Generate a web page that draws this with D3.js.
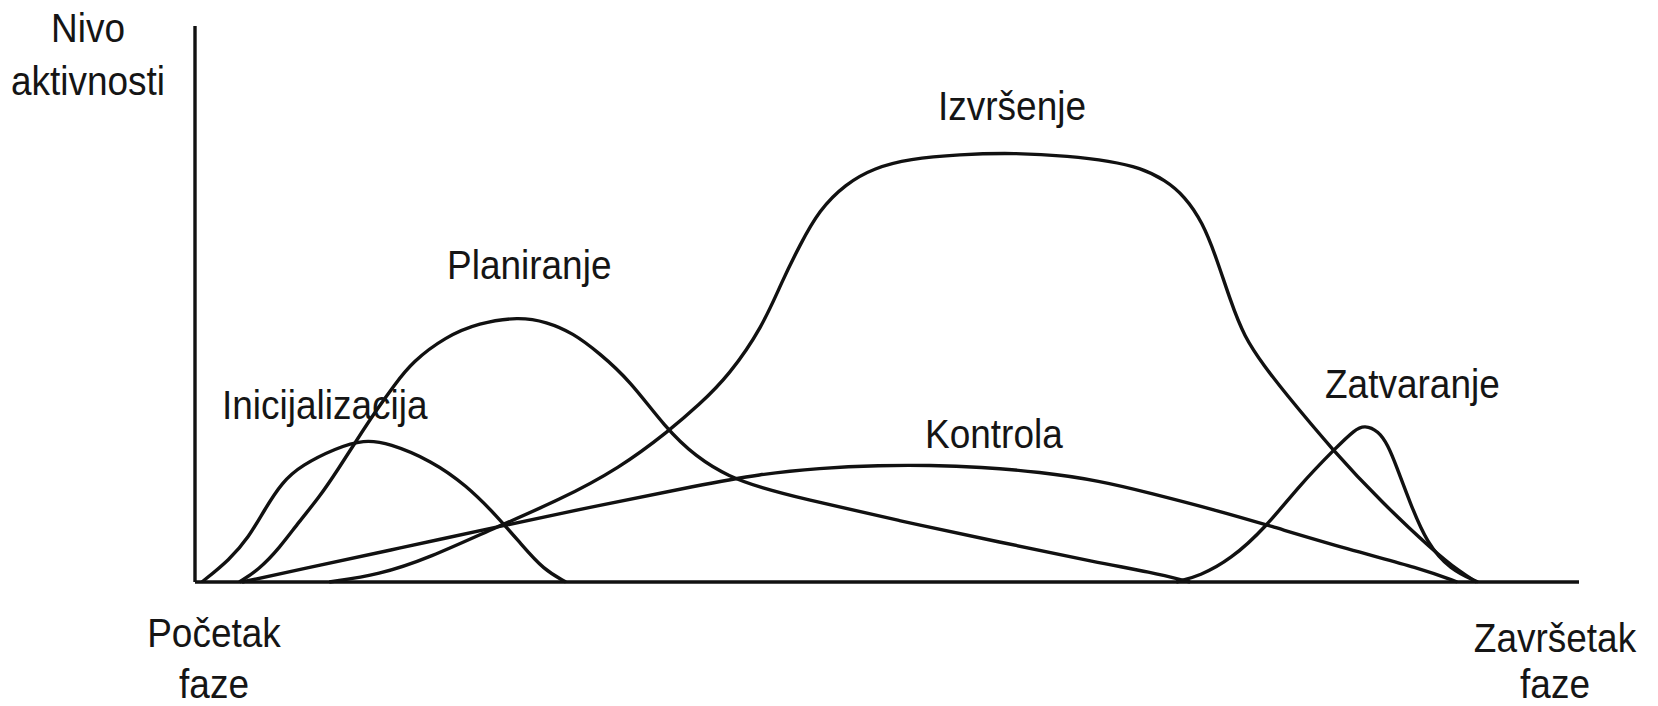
<!DOCTYPE html>
<html>
<head>
<meta charset="utf-8">
<script src="https://cdn.jsdelivr.net/npm/d3@7"></script>
<style>
	body { margin: 0; background: #fff; }
	text { font-family: "Liberation Sans", Arial, sans-serif; fill: #151515; }
</style>
</head>
<body>
<div id="chart"></div>
<script>
// faze projekta - vrijeme (0-100) i nivo aktivnosti (0-100), ocitano sa slike
var inicijalizacijaX = [0.5, 2.5, 3.9, 5.0, 6.3, 7.7, 10.2, 12.2, 14.0, 17.1, 19.6, 21.8, 23.6, 25.2, 26.8];
var inicijalizacijaY = [0, 4.0, 8.1, 12.9, 18.0, 21.0, 24.1, 25.6, 25.0, 21.8, 17.4, 11.9, 6.7, 2.2, 0];

var planiranjeX = [3.2, 4.6, 6.1, 7.5, 9.0, 10.4, 11.6, 13.1, 14.4, 15.7, 18.1, 20.5, 23.4, 25.4, 27.3, 29.2, 31.4, 34.0, 36.2, 38.6, 41.0, 43.7, 50.9, 58.1, 65.4, 69.0, 71.9];
var planiranjeY = [0, 2.2, 6.1, 10.8, 15.3, 20.5, 25.2, 30.9, 35.4, 39.6, 44.1, 46.6, 47.7, 46.8, 44.8, 41.2, 36.3, 27.7, 22.5, 18.9, 16.9, 15.1, 11.0, 7.2, 3.4, 1.8, 0];

var izvrsenjeX = [9.7, 13.3, 16.9, 21.8, 26.3, 30.7, 34.3, 36.4, 38.6, 41.0, 42.4, 43.7, 45.1, 47.0, 49.1, 51.6, 55.2, 59.2, 63.2, 66.1, 68.3, 70.1, 71.5, 72.8, 73.8, 74.8, 75.8, 77.3, 78.6, 82.2, 85.8, 89.4, 91.4, 92.6];
var izvrsenjeY = [0, 1.3, 4.3, 9.9, 14.7, 20.5, 27.3, 31.8, 37.2, 45.9, 54.0, 60.6, 66.9, 71.6, 74.5, 76.1, 76.9, 77.2, 76.6, 75.7, 74.5, 72.3, 69.4, 64.7, 58.3, 50.7, 44.1, 38.7, 34.5, 23.7, 14.2, 5.8, 1.8, 0];

var kontrolaX = [3.4, 7.5, 14.8, 21.8, 29.2, 36.4, 40.8, 45.1, 49.5, 53.1, 56.7, 61.0, 65.4, 69.0, 73.8, 77.4, 83.4, 88.5, 91.2];
var kontrolaY = [0, 2.2, 6.1, 9.9, 13.8, 17.4, 19.4, 20.5, 21.0, 21.0, 20.7, 19.8, 18.2, 16.0, 12.9, 10.3, 5.8, 2.5, 0];

var zatvaranjeX = [70.9, 72.6, 74.8, 77.4, 79.8, 82.5, 83.8, 84.5, 85.5, 86.2, 86.8, 87.8, 89.0, 90.7, 92.7];
var zatvaranjeY = [0, 1.1, 4.0, 9.9, 17.4, 24.3, 27.4, 28.2, 27.2, 24.6, 20.9, 14.2, 7.0, 2.2, 0];

var faze = [
	{ naziv: "Inicijalizacija", x: inicijalizacijaX, y: inicijalizacijaY },
	{ naziv: "Planiranje", x: planiranjeX, y: planiranjeY },
	{ naziv: "Izvršenje", x: izvrsenjeX, y: izvrsenjeY },
	{ naziv: "Kontrola", x: kontrolaX, y: kontrolaY },
	{ naziv: "Zatvaranje", x: zatvaranjeX, y: zatvaranjeY }
];

var width = 1658,
	height = 706;

var svg = d3.select("#chart")
	.append("svg")
	.attr("width", width)
	.attr("height", height);

var x = d3.scaleLinear().domain([0, 100]).range([195, 1579]);
var y = d3.scaleLinear().domain([0, 100]).range([582, 26]);

// basis spline da krive budu glatke kao na crtezu
var line = d3.line()
	.x(function(d) { return x(d[0]); })
	.y(function(d) { return y(d[1]); })
	.curve(d3.curveBasis);

// krive
svg.append("g")
	.selectAll("path")
	.data(faze)
	.enter().append("path")
	.attr("d", function(d) { return line(d3.zip(d.x, d.y)); })
	.attr("fill", "none")
	.attr("stroke", "#111")
	.attr("stroke-width", 3.4)
	.attr("stroke-linejoin", "round");

// ose
svg.append("line")
	.attr("x1", x(0)).attr("y1", y(0))
	.attr("x2", x(0)).attr("y2", y(100))
	.attr("stroke", "#111").attr("stroke-width", 3.4);

svg.append("line")
	.attr("x1", x(0)).attr("y1", y(0))
	.attr("x2", x(100)).attr("y2", y(0))
	.attr("stroke", "#111").attr("stroke-width", 3.4);

// natpisi
var natpisi = [
	{ t: "Inicijalizacija", x: 222, y: 419, a: "start" },
	{ t: "Planiranje", x: 447, y: 279, a: "start" },
	{ t: "Izvršenje", x: 938, y: 120, a: "start" },
	{ t: "Kontrola", x: 925, y: 448, a: "start" },
	{ t: "Zatvaranje", x: 1325, y: 398, a: "start" },
	{ t: "Nivo", x: 88, y: 42, a: "middle" },
	{ t: "aktivnosti", x: 88, y: 95, a: "middle" },
	{ t: "Početak", x: 214, y: 647, a: "middle" },
	{ t: "faze", x: 214, y: 698, a: "middle" },
	{ t: "Završetak", x: 1555, y: 652, a: "middle" },
	{ t: "faze", x: 1555, y: 698, a: "middle" }
];

svg.append("g")
	.selectAll("text")
	.data(natpisi)
	.enter().append("text")
	.attr("transform", function(d) { return "translate(" + d.x + "," + d.y + ") scale(1,1.12)"; })
	.attr("text-anchor", function(d) { return d.a; })
	.attr("font-size", 37)
	.text(function(d) { return d.t; });
</script>
</body>
</html>
